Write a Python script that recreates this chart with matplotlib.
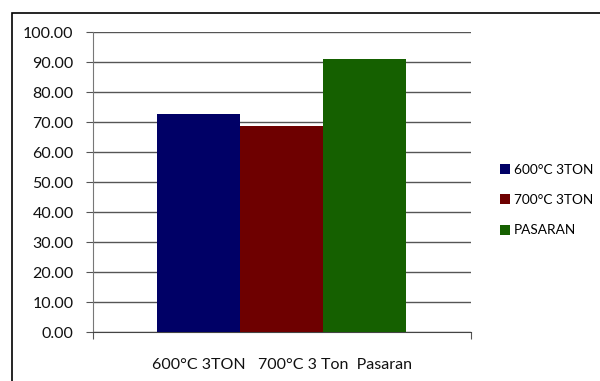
import matplotlib
matplotlib.use('Agg')
import numpy as np
from matplotlib import pyplot as plt
from matplotlib.patches import Rectangle

plt.rcParams['font.family'] = ['Lato', 'DejaVu Sans']

series = ['600°C 3TON', '700°C 3TON', 'PASARAN']
values = [72.8, 68.6, 90.9]
colors = ['#000066', '#6e0000', '#156000']
category = '600°C 3TON   700°C 3 Ton  Pasaran'
yticks = np.arange(0, 101, 10)

fig = plt.figure(figsize=(6.0, 3.81), dpi=100)
# outer chart frame
fig.patches.append(Rectangle((12/600, -0.1), 1.0, 1 - 13/381 + 0.1,
                             transform=fig.transFigure, fill=False,
                             edgecolor='black', linewidth=1.2))

ax = fig.add_axes([93/600, 1 - 332/381, (471-93)/600, 300/381])
width = 83
x0 = 157
for i, (s, v, c) in enumerate(zip(series, values, colors)):
    ax.bar(x0 + i*width, v, width=width, align='edge', color=c, label=s,
           zorder=3)

ax.set_xlim(93, 471)
ax.set_ylim(0, 100)
ax.set_yticks(yticks)
ax.set_yticklabels(['%.2f' % t for t in yticks], fontsize=11.5,
                   color='#111111')
ax.yaxis.grid(True, color='#555555', linewidth=1.0, zorder=0)
ax.set_xticks([93, 471])
ax.set_xticklabels(['', ''])
ax.tick_params(axis='x', length=5, color='#555555')
ax.tick_params(axis='y', length=5, color='#555555', pad=9)
ax.text(0.5, -0.11, category, transform=ax.transAxes, ha='center',
        va='center', fontsize=11.5, color='#111111')
for side in ['top', 'right']:
    ax.spines[side].set_visible(False)
ax.spines['left'].set_color('#777777')
ax.spines['bottom'].set_color('#444444')

ax.legend(loc='center left', bbox_to_anchor=(488/600, 1 - 200/381),
          bbox_transform=fig.transFigure, frameon=False, fontsize=9.8,
          handlelength=0.75, handleheight=0.75, handletextpad=0.25,
          labelspacing=1.35)

fig.savefig('out.png', dpi=100)
